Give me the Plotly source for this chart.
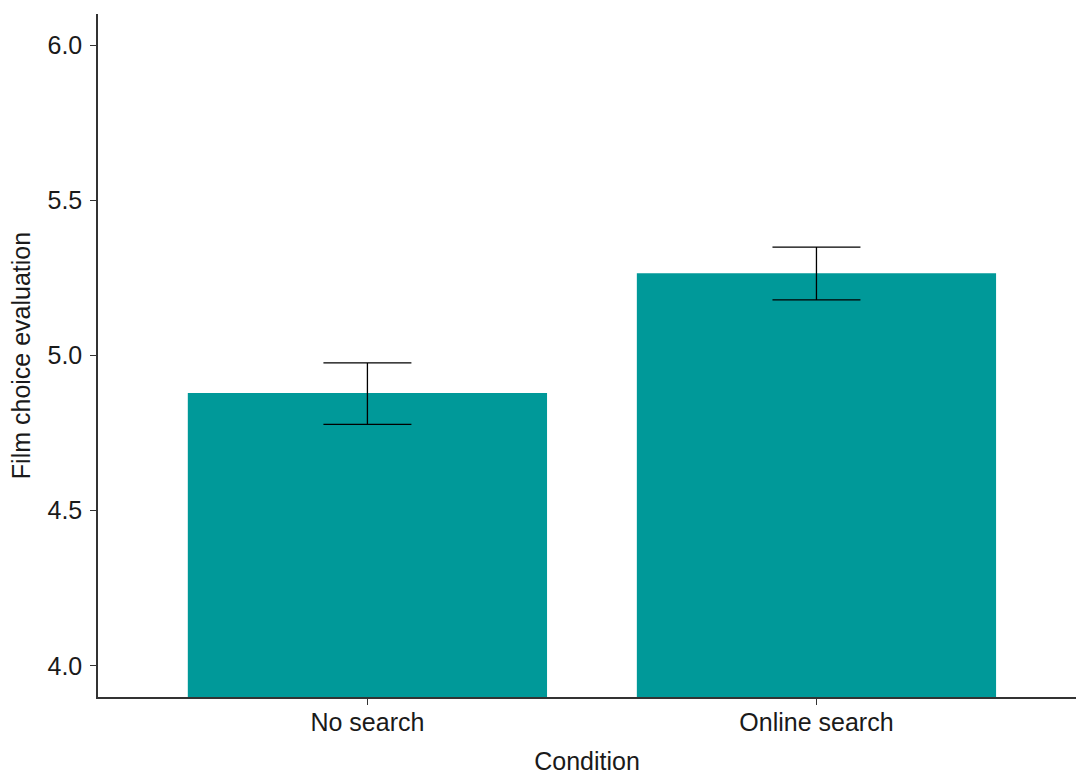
import plotly.graph_objects as go

conditions = ["No search", "Online search"]
means = [4.879, 5.265]
err_upper = [4.976, 5.349]
err_lower = [4.778, 5.179]

plus = [u - m for u, m in zip(err_upper, means)]
minus = [m - l for m, l in zip(means, err_lower)]

fig = go.Figure()
fig.add_trace(go.Bar(
    x=conditions, y=means, width=0.8,
    marker=dict(color="#009999", line=dict(width=0)),
    error_y=dict(type="data", symmetric=False, array=plus, arrayminus=minus,
                 color="black", thickness=1.3, width=44),
    showlegend=False,
))

FONT = "Liberation Sans, Arial, sans-serif"
tick_font = dict(family=FONT, size=25, color="#1a1a1a")
title_font = dict(family=FONT, size=25, color="#1a1a1a")
fig.update_layout(
    width=1076, height=775,
    margin=dict(l=98, r=0, t=14, b=78),
    plot_bgcolor="white", paper_bgcolor="white",
    xaxis=dict(
        range=[-0.6, 1.578], showline=True, linecolor="#333333", linewidth=1.5,
        ticks="outside", ticklen=6, tickcolor="#333333", tickwidth=1.3,
        ticklabelstandoff=-4,
        tickfont=tick_font, showgrid=False, zeroline=False,
        title=dict(text="Condition", font=title_font, standoff=19),
    ),
    yaxis=dict(
        range=[3.9, 6.1], showline=True, linecolor="#333333", linewidth=1.5,
        ticks="outside", ticklen=6, tickcolor="#333333", tickwidth=1.3,
        ticklabelstandoff=3,
        tickvals=[4.0, 4.5, 5.0, 5.5, 6.0], ticktext=["4.0", "4.5", "5.0", "5.5", "6.0"],
        tickfont=tick_font, showgrid=False, zeroline=False,
        title=dict(text="Film choice evaluation", font=title_font, standoff=10),
    ),
)

fig.write_html("out.html")
